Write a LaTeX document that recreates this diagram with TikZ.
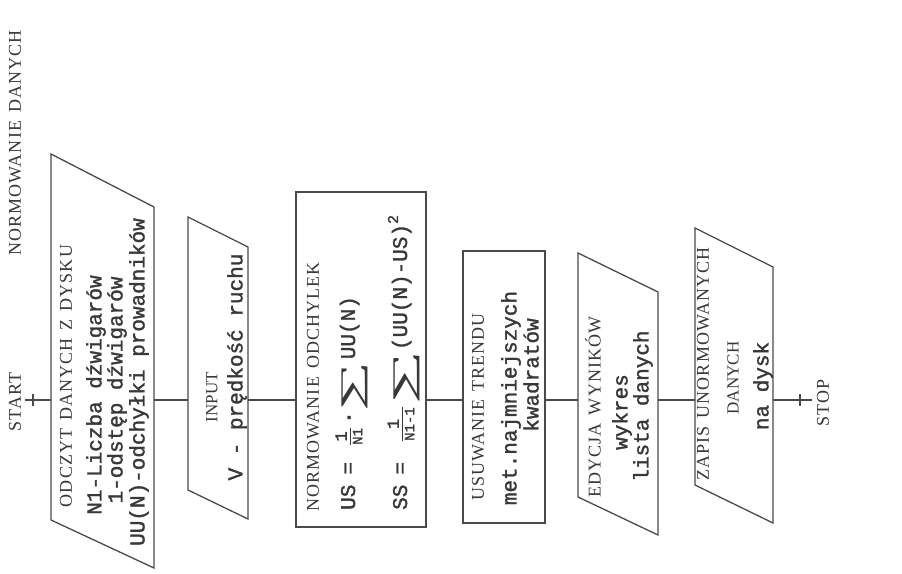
\documentclass[tikz,border=0pt]{standalone}
\usepackage{graphicx}
\usepackage{fontspec}
\setmainfont{Liberation Serif}
\newfontfamily\capf[LetterSpace=6]{Liberation Serif}
\newfontfamily\twf[FakeBold=1.5]{Liberation Mono}
\definecolor{lc}{HTML}{4A4A4A}
\definecolor{tc}{HTML}{383838}
\newcommand\wsp{\hspace{8pt}}
\newcommand\myfr[2]{$\frac{\hbox{\twf\fontsize{17}{17}\selectfont #1}}{\hbox{\twf\fontsize{14}{14}\selectfont #2}}$}
\newcommand\bigS[1]{\raisebox{-7pt}{\resizebox*{#1}{26pt}{\rmfamily ∑}}}
\tikzset{
  box/.style={draw=lc, line width=1.3pt, line join=miter},
  conn/.style={draw=lc, line width=1.3pt},
  capt/.style={rotate=90, inner sep=0pt, text=tc, font=\capf\fontsize{18}{20}\selectfont},
  capsmall/.style={rotate=90, inner sep=0pt, text=tc, font=\rmfamily\fontsize{17}{19}\selectfont},
  tw/.style={rotate=90, inner sep=0pt, text=tc, font=\twf\fontsize{21}{24}\selectfont}
}
\begin{document}
\begin{tikzpicture}[x=1pt, y=-1pt]
\useasboundingbox[fill=white] (0,0) rectangle (902,573);

% ---- box corners and connection points
\coordinate (b1tl) at (51,154);  \coordinate (b1tr) at (154,207);
\coordinate (b1br) at (154,568); \coordinate (b1bl) at (51,520);
\coordinate (b2tl) at (188,217); \coordinate (b2tr) at (248,247);
\coordinate (b2br) at (248,519); \coordinate (b2bl) at (188,490);
\coordinate (b5tl) at (578,253); \coordinate (b5tr) at (658,292);
\coordinate (b5br) at (658,535); \coordinate (b5bl) at (578,497);
\coordinate (b6tl) at (695,228); \coordinate (b6tr) at (773,267);
\coordinate (b6br) at (773,523); \coordinate (b6bl) at (695,485);

\draw[box] (b1tl) -- (b1tr) -- (b1br) -- (b1bl) -- cycle;
\draw[box] (b2tl) -- (b2tr) -- (b2br) -- (b2bl) -- cycle;
\draw[box] (296,192) rectangle (426,527);
\draw[box] (463,251) rectangle (545,523);
\draw[box] (b5tl) -- (b5tr) -- (b5br) -- (b5bl) -- cycle;
\draw[box] (b6tl) -- (b6tr) -- (b6br) -- (b6bl) -- cycle;

\coordinate (sa) at (25,400);
\coordinate (b1in) at (51,400);  \coordinate (b1out) at (154,400);
\coordinate (b2in) at (188,400); \coordinate (b2out) at (248,400);
\coordinate (b3in) at (296,400); \coordinate (b3out) at (426,400);
\coordinate (b4in) at (463,400); \coordinate (b4out) at (545,400);
\coordinate (b5in) at (578,400); \coordinate (b5out) at (658,400);
\coordinate (b6in) at (695,400); \coordinate (b6out) at (773,400);
\coordinate (se) at (812,400);
\coordinate (st1) at (33,394);  \coordinate (st2) at (33,406);
\coordinate (sp1) at (800,394); \coordinate (sp2) at (800,406);

\draw[conn] (sa) -- (b1in);
\draw[conn] (st1) -- (st2);
\draw[conn] (b1out) -- (b2in);
\draw[conn] (b2out) -- (b3in);
\draw[conn] (b3out) -- (b4in);
\draw[conn] (b4out) -- (b5in);
\draw[conn] (b5out) -- (b6in);
\draw[conn] (b6out) -- (se);
\draw[conn] (sp1) -- (sp2);

% ---- labels
\node[capt] (title) at (15,143) {NORMOWANIE\wsp DANYCH};
\node[capt] (start) at (15,402) {START};
\node[capt] (stop) at (823,403) {STOP};

\node[capt] (t11) at (66,376) {ODCZYT\wsp DANYCH\wsp Z\wsp DYSKU};
\node[tw] (t12) at (96,395) {N1-Liczba dźwigarów};
\node[tw] (t13) at (117,390) {1-odstęp dźwigarów};
\node[tw] (t14) at (139,382) {UU(N)-odchyłki prowadników};

\node[capsmall] (t21) at (212,397) {INPUT};
\node[tw] (t22) at (237,367) {V - prędkość ruchu};

\node[capt] (t31) at (313,387) {NORMOWANIE\wsp ODCHYLEK};
\node[tw, anchor=west] (t32) at (352,510)
  {US\hspace{10pt}=\hspace{16pt}\myfr{1}{N1}\hspace{3pt}{\bfseries ·}\bigS{50pt}\hspace{2pt}UU(N)};
\node[tw, anchor=west] (t33) at (404,510)
  {SS\hspace{10pt}=\hspace{20pt}\myfr{1}{N1-1}\hspace{1pt}\bigS{54pt}\hspace{1pt}(UU(N)-US)\raisebox{9pt}{\fontsize{15}{15}\selectfont 2}};

\node[capt] (t41) at (478,407) {USUWANIE\wsp TRENDU};
\node[tw] (t42) at (511,398) {met.najmniejszych};
\node[tw] (t43) at (531,375) {kwadratów};

\node[capt] (t51) at (593,407) {EDYCJA\wsp WYNIKÓW};
\node[tw] (t52) at (622,412) {wykres};
\node[tw] (t53) at (643,406) {lista danych};

\node[capt] (t61) at (703,364) {ZAPIS\wsp UNORMOWANYCH};
\node[capsmall] (t62) at (733,378) {DANYCH};
\node[tw] (t63) at (763,386) {na dysk};
\end{tikzpicture}
\end{document}
